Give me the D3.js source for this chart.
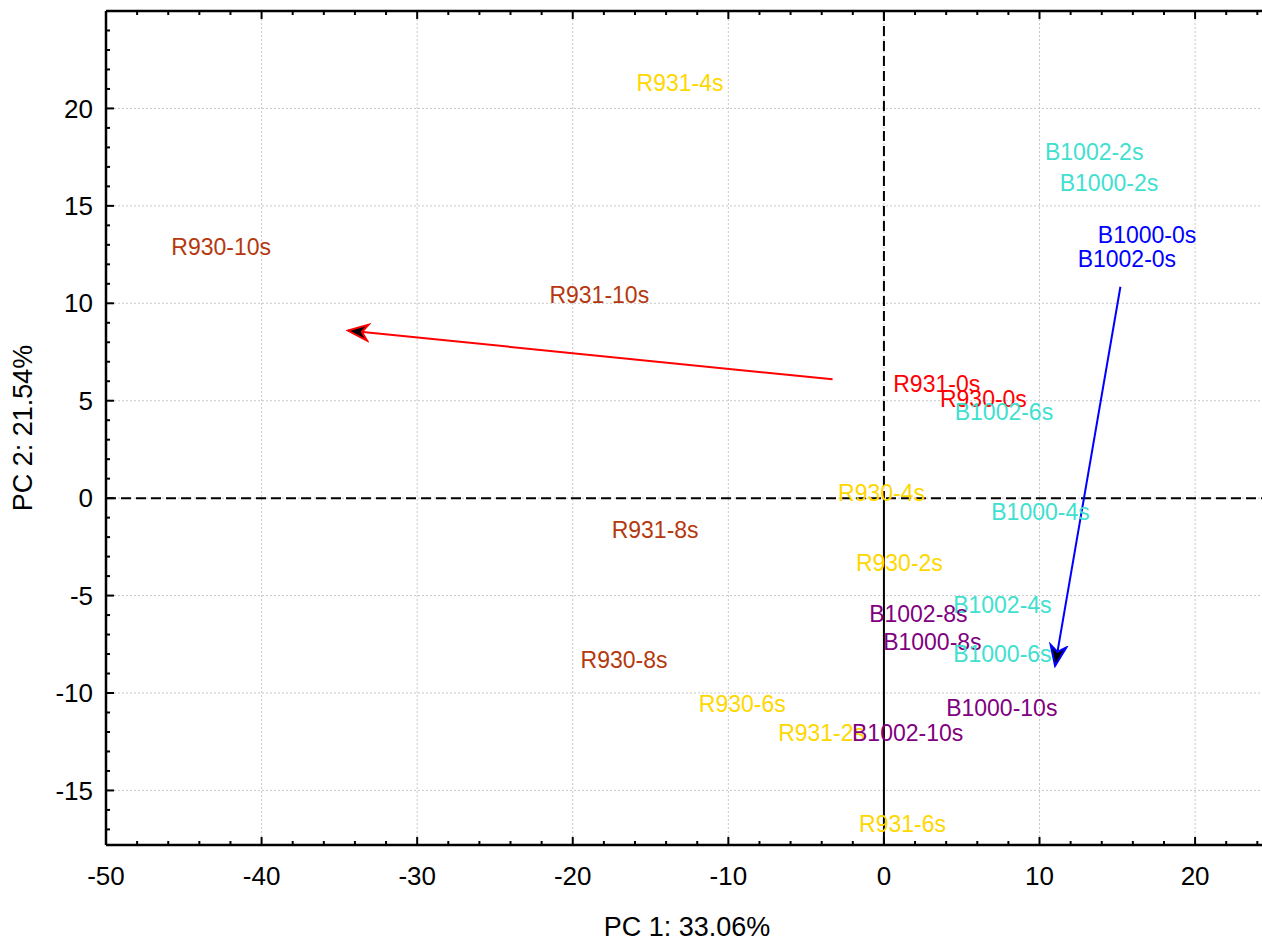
<!DOCTYPE html>
<html>
<head>
<meta charset="utf-8">
<script src="https://cdn.jsdelivr.net/npm/d3@7"></script>
<style>
  html, body { margin: 0; padding: 0; background: #fff; }
  svg { display: block; font-family: Arial, "Liberation Sans", sans-serif; }
</style>
</head>
<body>
<svg id="chart" width="1262" height="941"></svg>
<script>
// ---- data ----
const sampleLabels = ["R931-4s","R930-10s","R931-10s","B1002-2s","B1000-2s","B1000-0s","B1002-0s",
  "R931-0s","R930-0s","B1002-6s","R930-4s","B1000-4s","R931-8s","R930-2s","B1002-4s","B1002-8s",
  "B1000-8s","B1000-6s","R930-8s","B1000-10s","R930-6s","R931-2s","B1002-10s","R931-6s"];
const pc1Values = [-15.9,-45.8,-21.5,10.35,11.3,13.75,12.45,0.6,3.6,4.55,-2.95,6.9,-17.5,-1.8,4.45,-0.95,
  -0.05,4.45,-19.5,4.0,-11.9,-6.8,-2.05,-1.6];
const pc2Values = [21.3,12.9,10.45,17.75,16.2,13.5,12.25,5.85,5.1,4.4,0.25,-0.7,-1.65,-3.35,-5.5,-5.95,
  -7.4,-8.0,-8.3,-10.75,-10.55,-12.05,-12.05,-16.7];
const sampleGroups = ["R-mid","R-late","R-late","B-mid","B-mid","B-0","B-0",
  "R-0","R-0","B-mid","R-mid","B-mid","R-late","R-mid","B-mid","B-late",
  "B-late","B-mid","R-late","B-late","R-mid","R-mid","B-late","R-mid"];
const groupNames = ["R-0","R-mid","R-late","B-0","B-mid","B-late"];
const groupColors = ["#ff0000","#ffd700","#b5380e","#0000ff","#40e0d0","#800080"];

// loading-direction arrows: [x1, y1] -> [x2, y2]
const arrowNames = ["R", "B"];
const arrowStartX = [-3.3, 15.2];
const arrowStartY = [6.1, 10.85];
const arrowEndX = [-34.45, 11.0];
const arrowEndY = [8.6, -8.6];
const arrowColors = ["#ff0000", "#0000ff"];

const xTicks = [-50,-40,-30,-20,-10,0,10,20];
const yTicks = [-15,-10,-5,0,5,10,15,20];
const xTitle = "PC 1: 33.06%";
const yTitle = "PC 2: 21.54%";

// ---- layout ----
const svg = d3.select("#chart");
const L = 106, R = 1262, T = 11, B = 845;
const x = d3.scaleLinear().domain([-50, 24.3]).range([L, R]);
const y = d3.scaleLinear().domain([-17.8, 25]).range([B, T]);
const color = d3.scaleOrdinal().domain(groupNames).range(groupColors);

// grid
const grid = svg.append("g");
grid.selectAll("line.gx").data(xTicks).join("line")
  .attr("x1", d => x(d)).attr("x2", d => x(d)).attr("y1", T).attr("y2", B)
  .attr("stroke", "#c8c8c8").attr("stroke-width", 1).attr("stroke-dasharray", "2,2");
grid.selectAll("line.gy").data(yTicks).join("line")
  .attr("x1", L).attr("x2", R).attr("y1", d => y(d)).attr("y2", d => y(d))
  .attr("stroke", "#c8c8c8").attr("stroke-width", 1).attr("stroke-dasharray", "2,2");

// zero lines
svg.append("line").attr("x1", L).attr("x2", R).attr("y1", y(0)).attr("y2", y(0))
  .attr("stroke", "#000").attr("stroke-width", 2).attr("stroke-dasharray", "10,5");
svg.append("line").attr("x1", x(0)).attr("x2", x(0)).attr("y1", T).attr("y2", y(0))
  .attr("stroke", "#000").attr("stroke-width", 2).attr("stroke-dasharray", "10,5");
svg.append("line").attr("x1", x(0)).attr("x2", x(0)).attr("y1", y(0)).attr("y2", B)
  .attr("stroke", "#000").attr("stroke-width", 2);

// arrow markers
const defs = svg.append("defs");
arrowNames.forEach((n, i) => {
  defs.append("marker").attr("id", "arrow" + n)
    .attr("viewBox", "0 0 24 20").attr("refX", 22).attr("refY", 10)
    .attr("markerWidth", 24).attr("markerHeight", 20)
    .attr("markerUnits", "userSpaceOnUse").attr("orient", "auto")
    .append("path").attr("d", "M2,2 L22,10 L2,18 L8,10 Z")
    .attr("fill", "#000").attr("stroke", arrowColors[i]).attr("stroke-width", 2)
    .attr("stroke-linejoin", "miter");
});
svg.append("g").selectAll("line").data(arrowNames).join("line")
  .attr("x1", (d, i) => x(arrowStartX[i])).attr("y1", (d, i) => y(arrowStartY[i]))
  .attr("x2", (d, i) => x(arrowEndX[i])).attr("y2", (d, i) => y(arrowEndY[i]))
  .attr("stroke", (d, i) => arrowColors[i]).attr("stroke-width", 2)
  .attr("marker-end", d => "url(#arrow" + d + ")");

// sample labels
svg.append("g").selectAll("text").data(sampleLabels).join("text")
  .attr("x", (d, i) => x(pc1Values[i])).attr("y", (d, i) => y(pc2Values[i]))
  .attr("dy", "0.35em").attr("font-size", 23)
  .attr("fill", (d, i) => color(sampleGroups[i]))
  .text(d => d);

// axes
const minorX = d3.range(-50, 24.3, 2).filter(v => !xTicks.includes(v));
const minorY = d3.range(-17, 25, 1).filter(v => !yTicks.includes(v));
const axisG = svg.append("g");
// frame lines
axisG.append("line").attr("x1", L).attr("x2", L).attr("y1", T).attr("y2", B).attr("stroke", "#000").attr("stroke-width", 2.5);
axisG.append("line").attr("x1", L).attr("x2", R).attr("y1", B).attr("y2", B).attr("stroke", "#000").attr("stroke-width", 2.5);
axisG.append("line").attr("x1", L).attr("x2", R).attr("y1", T).attr("y2", T).attr("stroke", "#000").attr("stroke-width", 2.5);
// bottom & top ticks (inward)
[[B, -1], [T, 1]].forEach(([yy, dir]) => {
  axisG.selectAll(null).data(xTicks).join("line")
    .attr("x1", d => x(d)).attr("x2", d => x(d)).attr("y1", yy).attr("y2", yy + dir * 8)
    .attr("stroke", "#000").attr("stroke-width", 2);
  axisG.selectAll(null).data(minorX).join("line")
    .attr("x1", d => x(d)).attr("x2", d => x(d)).attr("y1", yy).attr("y2", yy + dir * 4)
    .attr("stroke", "#000").attr("stroke-width", 2);
});
// left ticks (inward)
axisG.selectAll(null).data(yTicks).join("line")
  .attr("x1", L).attr("x2", L + 8).attr("y1", d => y(d)).attr("y2", d => y(d))
  .attr("stroke", "#000").attr("stroke-width", 2);
axisG.selectAll(null).data(minorY).join("line")
  .attr("x1", L).attr("x2", L + 4).attr("y1", d => y(d)).attr("y2", d => y(d))
  .attr("stroke", "#000").attr("stroke-width", 2);

// tick labels
axisG.selectAll(null).data(xTicks).join("text")
  .attr("x", d => x(d)).attr("y", 876).attr("dy", "0.35em")
  .attr("text-anchor", "middle").attr("font-size", 26).attr("fill", "#000")
  .text(d => d);
axisG.selectAll(null).data(yTicks).join("text")
  .attr("x", 93).attr("y", d => y(d)).attr("dy", "0.35em")
  .attr("text-anchor", "end").attr("font-size", 26).attr("fill", "#000")
  .text(d => d);

// titles
svg.append("text").attr("x", 687).attr("y", 927).attr("dy", "0.35em")
  .attr("text-anchor", "middle").attr("font-size", 27).text(xTitle);
svg.append("text").attr("transform", "translate(23,428) rotate(-90)").attr("dy", "0.35em")
  .attr("text-anchor", "middle").attr("font-size", 27).text(yTitle);
</script>
</body>
</html>
